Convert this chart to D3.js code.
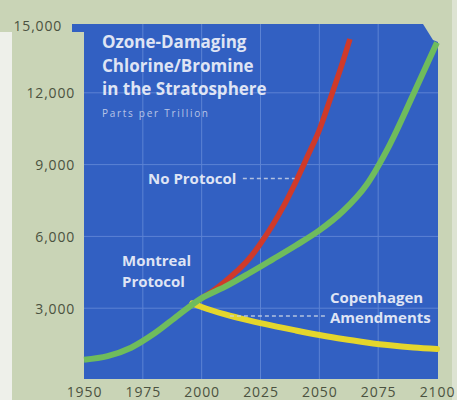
<!DOCTYPE html>
<html>
<head>
<meta charset="utf-8">
<script src="https://cdn.jsdelivr.net/npm/d3@7"></script>
<style>
  html, body { margin: 0; padding: 0; background: #c9d4b6; }
  svg { display: block; }
</style>
</head>
<body>
<svg id="chart" width="457" height="400"></svg>
<script>
// Stratospheric chlorine/bromine under three policy scenarios (parts per trillion)
const montrealYears  = [1950, 1960, 1970, 1980, 1990, 2000, 2010, 2020, 2030, 2040, 2050, 2060, 2070, 2080, 2090, 2100];
const montrealValues = [850, 1000, 1350, 1950, 2700, 3420, 3900, 4450, 5030, 5620, 6250, 7050, 8150, 9850, 11950, 14100];

const noProtocolYears  = [2000, 2005, 2010, 2015, 2020, 2025, 2030, 2035, 2040, 2045, 2050, 2055, 2060, 2063];
const noProtocolValues = [3420, 3740, 4120, 4550, 5050, 5700, 6450, 7300, 8280, 9350, 10450, 11850, 13300, 14250];

const copenhagenYears  = [1996, 2000, 2010, 2020, 2030, 2040, 2050, 2060, 2070, 2080, 2090, 2100];
const copenhagenValues = [3200, 3050, 2740, 2490, 2270, 2070, 1880, 1710, 1570, 1450, 1360, 1300];

const yearTicks  = [1950, 1975, 2000, 2025, 2050, 2075, 2100];
const valueTicks = [3000, 6000, 9000, 12000, 15000];

const titleLines = ["Ozone-Damaging", "Chlorine/Bromine", "in the Stratosphere"];
const unitLabel  = "Parts per Trillion";

const svg = d3.select("#chart");
const W = 457, H = 400;

const x = d3.scaleLinear().domain([1950, 2100]).range([84, 437]);
const y = d3.scaleLinear().domain([0, 15000]).range([380, 21]);

const BLUE = "#3260c2";
const fontFam = "'Open Sans', 'DejaVu Sans', sans-serif";

// page background and paper edges
svg.append("rect").attr("width", W).attr("height", H).attr("fill", "#c9d4b6");
svg.append("rect").attr("x", 0).attr("y", 32).attr("width", 12).attr("height", H - 32).attr("fill", "#eef0ea");
svg.append("rect").attr("x", 452).attr("y", 0).attr("width", 5).attr("height", H).attr("fill", "#dde3d2");

// blue plot panel, with a small lip at top-left and a clipped top-right corner
const pTop = 24, pBot = 379, pL = x(1950), pR = x(2100) + 1;
const panel = d3.path();
panel.moveTo(pL - 12, pTop);
panel.lineTo(pR - 15, pTop);
panel.lineTo(pR - 5, pTop + 16);
panel.lineTo(pR, pTop + 18);
panel.lineTo(pR, pBot);
panel.lineTo(pL, pBot);
panel.lineTo(pL, pTop + 8);
panel.lineTo(pL - 12, pTop + 8);
panel.closePath();
svg.append("path").attr("d", panel.toString()).attr("fill", BLUE);

// grid
const grid = svg.append("g").attr("stroke", "#6e92dc").attr("stroke-width", 1).attr("opacity", 0.7);
grid.selectAll("line.v").data(yearTicks.slice(1, -1)).join("line")
  .attr("x1", d => x(d)).attr("x2", d => x(d))
  .attr("y1", pTop).attr("y2", pBot);
grid.selectAll("line.h").data(valueTicks.slice(0, -1)).join("line")
  .attr("x1", pL).attr("x2", pR)
  .attr("y1", d => y(d)).attr("y2", d => y(d));

// value axis labels
const yAxis = d3.axisLeft(y).tickValues(valueTicks).tickSize(0).tickPadding(9)
  .tickFormat(d3.format(","));
const yg = svg.append("g").attr("transform", `translate(${pL},0)`).call(yAxis);
yg.select(".domain").remove();
yg.selectAll("text")
  .attr("font-family", fontFam).attr("font-size", 14).attr("letter-spacing", 0.8)
  .attr("fill", "#4b5240")
  .attr("dy", "0.36em");
yg.selectAll(".tick").filter(d => d === 15000).select("text")
  .attr("x", -22).attr("dy", "0.66em");

// year axis labels
const xAxis = d3.axisBottom(x).tickValues(yearTicks).tickSize(0).tickPadding(0)
  .tickFormat(d3.format("d"));
const xg = svg.append("g").attr("transform", `translate(0,${pBot})`).call(xAxis);
xg.select(".domain").remove();
xg.selectAll("text")
  .attr("font-family", fontFam).attr("font-size", 14).attr("letter-spacing", 0.9)
  .attr("fill", "#4b5240")
  .attr("y", 18).attr("dy", 0);

// title block
const title = svg.append("g").attr("font-family", fontFam).attr("font-weight", 700)
  .attr("font-size", 17).attr("fill", "#dfe4f4");
title.selectAll("text").data(titleLines).join("text")
  .attr("x", 102).attr("y", (d, i) => 48 + i * 23.5)
  .text(d => d);
svg.append("text").attr("x", 102).attr("y", 117)
  .attr("font-family", fontFam).attr("font-size", 10)
  .attr("fill", "#b9c5e6").attr("textLength", 106).attr("lengthAdjust", "spacing")
  .text(unitLabel);

// curves
const line = d3.line().x(d => x(d[0])).y(d => y(d[1])).curve(d3.curveMonotoneX);
const zip = (a, b) => a.map((v, i) => [v, b[i]]);

svg.append("path").datum(zip(copenhagenYears, copenhagenValues))
  .attr("d", line).attr("fill", "none").attr("stroke", "#e4d62c")
  .attr("stroke-width", 6).attr("stroke-linecap", "round");
svg.append("path").datum(zip(noProtocolYears, noProtocolValues))
  .attr("d", line).attr("fill", "none").attr("stroke", "#cf3a2a")
  .attr("stroke-width", 5.5).attr("stroke-linecap", "butt");
svg.append("path").datum(zip(montrealYears, montrealValues))
  .attr("d", line).attr("fill", "none").attr("stroke", "#6fbc5c")
  .attr("stroke-width", 6).attr("stroke-linecap", "butt");

// scenario labels
const lab = svg.append("g").attr("font-family", fontFam).attr("font-weight", 700)
  .attr("font-size", 15).attr("fill", "#dfe4f4");
lab.append("text").attr("x", 148).attr("y", 184).text("No Protocol");
lab.append("text").attr("x", 122).attr("y", 266).text("Montreal");
lab.append("text").attr("x", 122).attr("y", 287).text("Protocol");
lab.append("text").attr("x", 330).attr("y", 303).text("Copenhagen");
lab.append("text").attr("x", 330).attr("y", 323).text("Amendments");

// leader lines
const leaders = svg.append("g").attr("stroke", "#c9d3e6").attr("stroke-width", 1.5)
  .attr("stroke-dasharray", "4,3").attr("opacity", 0.85);
leaders.append("line")
  .attr("x1", x(2017.5)).attr("x2", x(2039.5))
  .attr("y1", y(8420)).attr("y2", y(8420));
leaders.append("line")
  .attr("x1", x(2012)).attr("x2", x(2053.5))
  .attr("y1", y(2670)).attr("y2", y(2670));
</script>
</body>
</html>
